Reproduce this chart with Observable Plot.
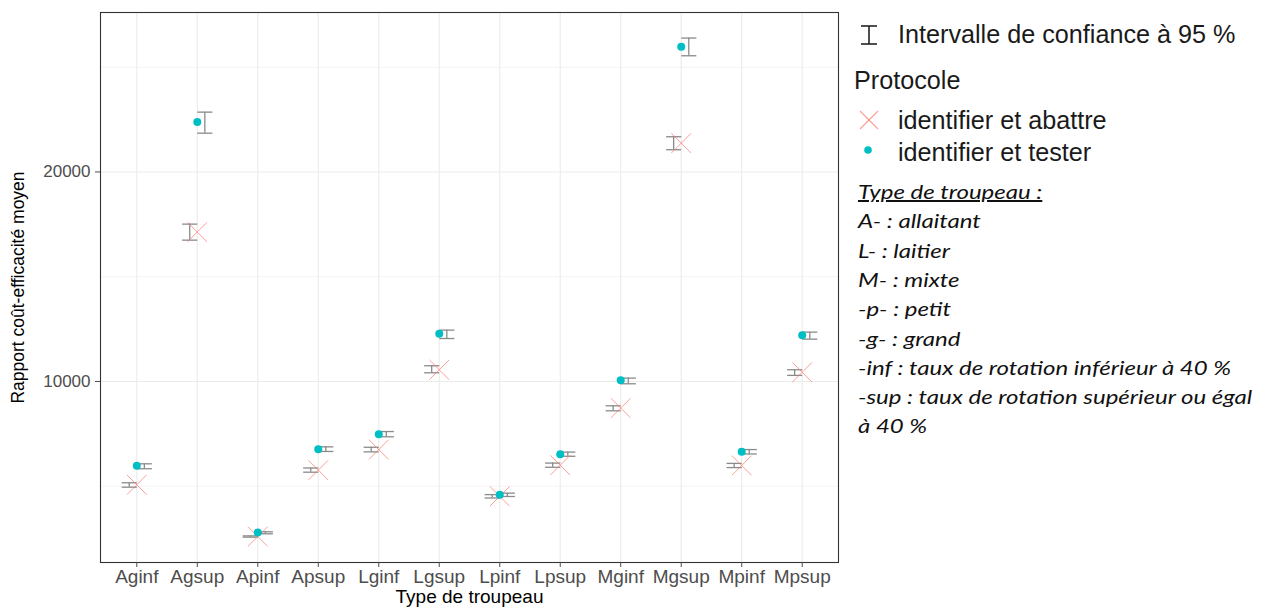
<!DOCTYPE html>
<html>
<head>
<meta charset="utf-8">
<script src="https://cdn.jsdelivr.net/npm/d3@7"></script>
<script src="https://cdn.jsdelivr.net/npm/@observablehq/plot@0.6"></script>
<style>
  html, body { margin: 0; padding: 0; background: #fff; }
  #wrap { position: relative; width: 1265px; height: 608px; overflow: hidden; }
  #chart { position: absolute; left: 0; top: 0; }
  .lg { position: absolute; font-family: "Liberation Sans", Arial, sans-serif; font-size: 25.2px; color: #1a1a1a; white-space: nowrap; line-height: 30px; }
  .note { position: absolute; left: 858px; font-family: Lato, "Open Sans", sans-serif; font-style: italic; font-size: 20px; color: #111; white-space: nowrap; line-height: 24px; transform: scaleX(1.2); transform-origin: left center; }
</style>
</head>
<body>
<div id="wrap">
  <div id="chart"></div>
  <svg style="position:absolute;left:855px;top:20px" width="30" height="160">
    <g stroke="#222" stroke-width="1.6" fill="none">
      <line x1="14" y1="6" x2="14" y2="24"></line>
      <line x1="6" y1="6" x2="22" y2="6"></line>
      <line x1="6" y1="24" x2="22" y2="24"></line>
    </g>
    <g stroke="#F8766D" stroke-opacity="0.7" stroke-width="1.1">
      <line x1="5" y1="91" x2="23" y2="109"></line>
      <line x1="5" y1="109" x2="23" y2="91"></line>
    </g>
    <circle cx="13" cy="130" r="3.8" fill="#00BFC4"></circle>
  </svg>
  <div class="lg" style="left:898px;top:19px">Intervalle de confiance à 95 %</div>
  <div class="lg" style="left:854px;top:65px">Protocole</div>
  <div class="lg" style="left:898px;top:105px">identifier et abattre</div>
  <div class="lg" style="left:898px;top:137px">identifier et tester</div>
  <div id="notes"></div>
</div>
<script>
const categories = ["Aginf","Agsup","Apinf","Apsup","Lginf","Lgsup","Lpinf","Lpsup","Mginf","Mgsup","Mpinf","Mpsup"];
const protocols = ["identifier et abattre", "identifier et tester"];
const abattreMean = [5070, 17130, 2600, 5770, 6750, 10560, 4520, 6005, 8730, 21375, 5990, 10440];
const abattreLow  = [4955, 16745, 2570, 5670, 6640, 10415, 4440, 5905, 8600, 21060, 5890, 10290];
const abattreHigh = [5165, 17510, 2630, 5870, 6860, 10750, 4600, 6105, 8840, 21680, 6090, 10560];
const testerMean  = [5975, 22380, 2790, 6770, 7485, 12280, 4590, 6530, 10060, 25975, 6645, 12210];
const testerLow   = [5835, 21850, 2730, 6660, 7360, 12050, 4510, 6430, 9890, 25545, 6540, 12020];
const testerHigh  = [6070, 22855, 2825, 6880, 7610, 12450, 4670, 6630, 10160, 26390, 6750, 12355];
const yTicks = [10000, 20000];
const yMinor = [5000, 15000, 25000];
const notes = [
  "Type de troupeau :",
  "A- : allaitant",
  "L- : laitier",
  "M- : mixte",
  "-p- : petit",
  "-g- : grand",
  "-inf : taux de rotation inférieur à 40 %",
  "-sup : taux de rotation supérieur ou égal",
  "à 40 %"
];

const dodge = 0.125, capHalf = 0.125;
const rows = [];
categories.forEach((c, i) => {
  rows.push({i, cat: c, protocol: protocols[0], mean: abattreMean[i], low: abattreLow[i], high: abattreHigh[i], off: -dodge});
  rows.push({i, cat: c, protocol: protocols[1], mean: testerMean[i], low: testerLow[i], high: testerHigh[i], off: dodge});
});
const rowsA = rows.filter(d => d.protocol === protocols[0]);
const rowsT = rows.filter(d => d.protocol === protocols[1]);
const idx = d3.range(categories.length);
const ebColor = "#8a8a8a";

const chart = Plot.plot({
  width: 850,
  height: 608,
  marginLeft: 100,
  marginRight: 12,
  marginTop: 12,
  marginBottom: 46,
  style: {fontFamily: "'Liberation Sans', Arial, sans-serif", background: "white"},
  x: {type: "linear", domain: [-0.6, categories.length - 1 + 0.6]},
  y: {domain: [1360, 27610]},
  marks: [
    Plot.ruleY(yMinor, {stroke: "#F4F4F4", strokeWidth: 1}),
    Plot.ruleY(yTicks, {stroke: "#EBEBEB", strokeWidth: 1.1}),
    Plot.ruleX(idx, {stroke: "#EBEBEB", strokeWidth: 1.1}),
    Plot.ruleX(rows, {x: d => d.i + d.off, y1: "low", y2: "high", stroke: ebColor, strokeWidth: 1.3}),
    Plot.link(rows, {x1: d => d.i + d.off - capHalf, x2: d => d.i + d.off + capHalf, y1: "low", y2: "low", stroke: ebColor, strokeWidth: 1.3}),
    Plot.link(rows, {x1: d => d.i + d.off - capHalf, x2: d => d.i + d.off + capHalf, y1: "high", y2: "high", stroke: ebColor, strokeWidth: 1.3}),
    Plot.dot(rowsA, {x: "i", y: "mean", symbol: "times", r: 9, stroke: "#F8766D", strokeOpacity: 0.7, strokeWidth: 1}),
    Plot.dot(rowsT, {x: "i", y: "mean", r: 4, fill: "#00BFC4", stroke: "none"}),
    Plot.frame({stroke: "#333333", strokeWidth: 1.1}),
    Plot.axisX(idx, {tickFormat: i => categories[i], tickSize: 5, tickPadding: 2, fontSize: "19px", color: "#4D4D4D", label: null}),
    Plot.axisY(yTicks, {tickFormat: d => String(d), tickSize: 5, tickPadding: 5, fontSize: "17px", color: "#4D4D4D", label: null}),
    Plot.text(["Type de troupeau"], {frameAnchor: "bottom", dy: 40, fontSize: 19, fill: "black"}),
    Plot.text(["Rapport coût-efficacité moyen"], {frameAnchor: "left", textAnchor: "middle", dx: -82, rotate: -90, fontSize: 17.5, fill: "black"})
  ]
});
document.getElementById("chart").appendChild(chart);

const notesDiv = document.getElementById("notes");
notes.forEach((t, k) => {
  const d = document.createElement("div");
  d.className = "note";
  d.style.top = (191 + k * 29.3 - 12) + "px";
  if (k === notes.length - 1) d.style.top = (425 - 12) + "px";
  d.textContent = t;
  if (k === 0) d.style.textDecoration = "underline";
  notesDiv.appendChild(d);
});
</script>
</body>
</html>
